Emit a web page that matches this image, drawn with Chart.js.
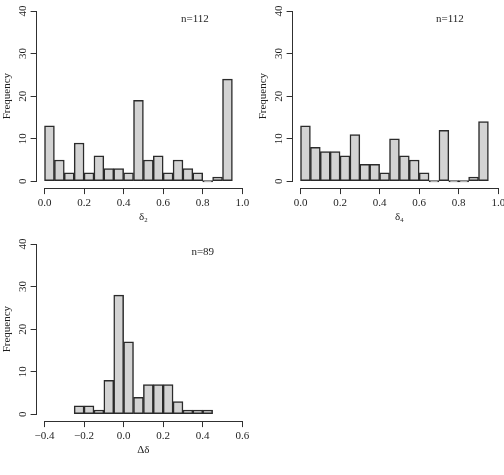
<!DOCTYPE html>
<html lang="en">
<head>
<meta charset="UTF-8">
<title>Histograms</title>
<script src="https://cdn.jsdelivr.net/npm/chart.js"></script>
<style>
body { margin: 0; background: #fff; overflow: hidden; width: 504px; height: 475px; position: relative; }
.panel { position: absolute; width: 252px; height: 225px; }
#p1 { left: 0; top: 0; }
#p2 { left: 256px; top: 0; }
#p3 { left: 0; top: 233px; }
</style>
</head>
<body>
<div class="panel" id="p1"><canvas id="delta2Chart" width="252" height="225"></canvas></div>
<div class="panel" id="p2"><canvas id="delta4Chart" width="252" height="225"></canvas></div>
<div class="panel" id="p3"><canvas id="diffChart" width="252" height="225"></canvas></div>
<script>
// bin left edges (width 0.05) and counts
var binWidth = 0.05;
var d2Bins = [0.00, 0.05, 0.10, 0.15, 0.20, 0.25, 0.30, 0.35, 0.40, 0.45, 0.50, 0.55, 0.60, 0.65, 0.70, 0.75, 0.80, 0.85, 0.90];
var d2Counts = [13, 5, 2, 9, 2, 6, 3, 3, 2, 19, 5, 6, 2, 5, 3, 2, 0, 1, 24];
var d4Bins = [0.00, 0.05, 0.10, 0.15, 0.20, 0.25, 0.30, 0.35, 0.40, 0.45, 0.50, 0.55, 0.60, 0.65, 0.70, 0.75, 0.80, 0.85, 0.90];
var d4Counts = [13, 8, 7, 7, 6, 11, 4, 4, 2, 10, 6, 5, 2, 0, 12, 0, 0, 1, 14];
var ddBins = [-0.25, -0.20, -0.15, -0.10, -0.05, 0.00, 0.05, 0.10, 0.15, 0.20, 0.25, 0.30, 0.35, 0.40];
var ddCounts = [2, 2, 1, 8, 28, 17, 4, 7, 7, 7, 3, 1, 1, 1];

var unitTicks = [0.0, 0.2, 0.4, 0.6, 0.8, 1.0];
var diffTicks = [-0.4, -0.2, 0.0, 0.2, 0.4, 0.6];
var freqTicks = [0, 10, 20, 30, 40];

var fontFamily = '"Liberation Serif", "Times New Roman", serif';
var textColor = '#1e1e1e';
var axisColor = '#303030';

// R-style axes: axis line only between first and last tick, vertical y labels, "n=" note
var rAxisLines = {
    id: 'rAxisLines',
    afterDraw: function (chart) {
        var ctx = chart.ctx, area = chart.chartArea;
        var xs = chart.scales.x, ys = chart.scales.y;
        var xt = xs.ticks, yt = ys.ticks;
        ctx.save();
        ctx.strokeStyle = axisColor;
        ctx.lineWidth = 1;
        ctx.beginPath();
        var yb = Math.round(area.bottom) + 0.5;
        ctx.moveTo(Math.round(xs.getPixelForValue(xt[0].value)), yb);
        ctx.lineTo(Math.round(xs.getPixelForValue(xt[xt.length - 1].value)) + 1, yb);
        var xl = Math.round(area.left) - 0.5;
        ctx.moveTo(xl, Math.round(ys.getPixelForValue(yt[0].value)) + 1);
        ctx.lineTo(xl, Math.round(ys.getPixelForValue(yt[yt.length - 1].value)));
        ctx.stroke();

        ctx.fillStyle = textColor;
        ctx.font = '11px ' + fontFamily;
        ctx.textAlign = 'center';
        ctx.textBaseline = 'middle';
        var labelX = area.left - 13.6;
        yt.forEach(function (t) {
            ctx.save();
            ctx.translate(labelX, ys.getPixelForValue(t.value));
            ctx.rotate(-Math.PI / 2);
            ctx.fillText(String(t.value), 0, 0);
            ctx.restore();
        });

        var note = chart.options.plugins.rAxisLines;
        ctx.fillText(note.text, xs.getPixelForValue(note.x), ys.getPixelForValue(note.y));
        ctx.restore();
    }
};

function fmtTick(v) {
    var s = v.toFixed(1);
    return v < 0 ? '\u2212' + s.substring(1) : s;
}

function makeHist(id, bins, counts, xMin, xMax, xTicks, xTitle, noteText, noteX) {
    var points = bins.map(function (b, i) {
        return { x: b + binWidth / 2, y: counts[i] };
    });
    return new Chart(document.getElementById(id), {
        type: 'bar',
        data: {
            datasets: [{
                data: points,
                backgroundColor: '#d3d3d3',
                borderColor: '#2b2b2b',
                borderWidth: 1.5,
                borderSkipped: false,
                minBarLength: 1.5,
                barPercentage: 1,
                categoryPercentage: 1
            }]
        },
        options: {
            responsive: false,
            animation: false,
            layout: { padding: { left: 0, right: 1.8, top: 4.2, bottom: 0 } },
            plugins: {
                legend: { display: false },
                tooltip: { enabled: false },
                rAxisLines: { text: noteText, x: noteX, y: 38 }
            },
            scales: {
                x: {
                    type: 'linear',
                    min: xMin,
                    max: xMax,
                    offset: false,
                    afterBuildTicks: function (scale) {
                        scale.ticks = xTicks.map(function (v) { return { value: v }; });
                    },
                    afterFit: function (scale) {
                        scale.height = 36.9;
                        scale.paddingLeft = 0;
                        scale.paddingRight = 0;
                    },
                    grid: { offset: false, drawOnChartArea: false, color: axisColor, tickLength: 6 },
                    border: { display: false },
                    ticks: {
                        autoSkip: false,
                        maxRotation: 0,
                        padding: 2,
                        color: textColor,
                        font: { family: fontFamily, size: 11 },
                        callback: function (v) { return fmtTick(v); }
                    },
                    title: {
                        display: true,
                        text: xTitle,
                        color: textColor,
                        font: { family: fontFamily, size: 11 },
                        padding: { top: 0, bottom: 1.5 }
                    }
                },
                y: {
                    min: -1.6,
                    max: 41.6,
                    afterBuildTicks: function (scale) {
                        scale.ticks = freqTicks.map(function (v) { return { value: v }; });
                    },
                    afterFit: function (scale) {
                        scale.width = 36.6;
                        scale.paddingTop = 0;
                        scale.paddingBottom = 0;
                    },
                    grid: { drawOnChartArea: false, color: axisColor, tickLength: 6 },
                    border: { display: false },
                    ticks: { display: false, autoSkip: false },
                    title: {
                        display: true,
                        text: 'Frequency',
                        color: textColor,
                        font: { family: fontFamily, size: 11 },
                        padding: { top: 0.5, bottom: 0 }
                    }
                }
            }
        },
        plugins: [rAxisLines]
    });
}

makeHist('delta2Chart', d2Bins, d2Counts, -0.04, 1.04, unitTicks, '\u03b4\u2082', 'n=112', 0.76);
makeHist('delta4Chart', d4Bins, d4Counts, -0.04, 1.04, unitTicks, '\u03b4\u2084', 'n=112', 0.755);
makeHist('diffChart', ddBins, ddCounts, -0.44, 0.64, diffTicks, '\u0394\u03b4', 'n=89', 0.40);
</script>
</body>
</html>
